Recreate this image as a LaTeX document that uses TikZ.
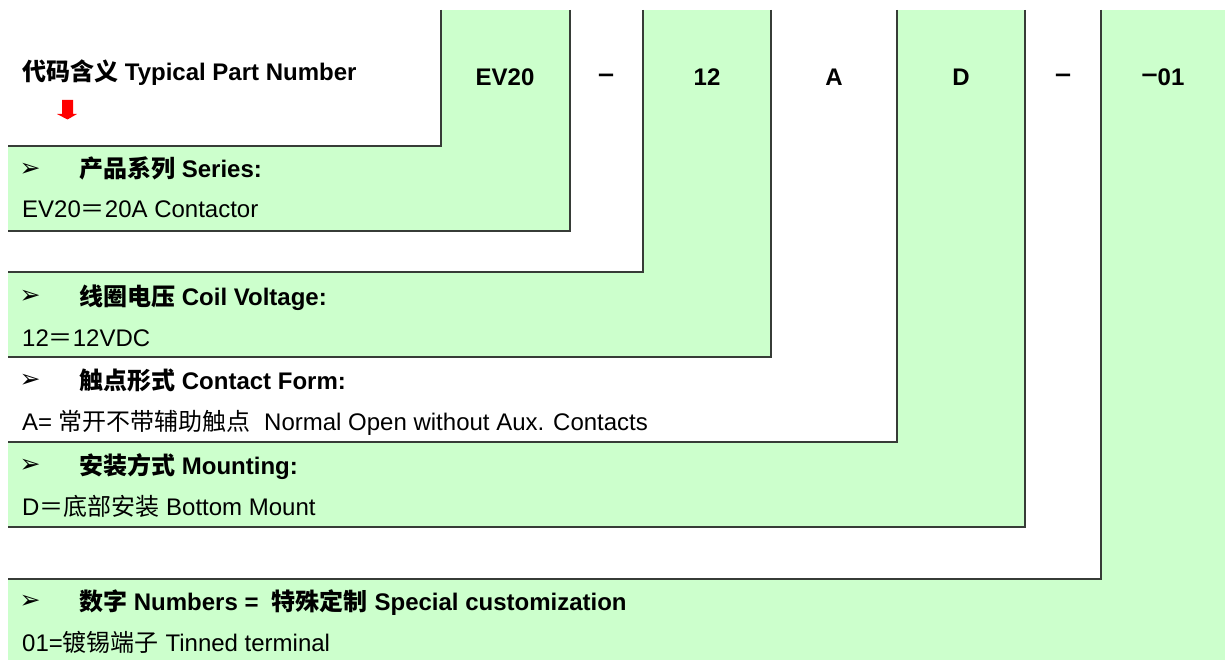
\documentclass[tikz,border=0pt]{standalone}
\usepackage{fontspec}
\setmainfont{Liberation Sans}
\newfontfamily\cjk{Noto Sans CJK SC}
\newfontfamily\symf{DejaVu Sans}
\definecolor{lg}{RGB}{204,255,204}
\definecolor{bd}{RGB}{55,60,55}
\definecolor{arrowred}{RGB}{255,0,0}
\newcommand{\rdash}{\raisebox{3.5pt}{\scalebox{1.2}[1.1]{–}}}
\tikzset{
  edge/.style={line width=1.4pt, draw=bd},
  txt/.style={anchor=base west, inner sep=0pt, font=\fontsize{24}{28}\selectfont},
  hd/.style={anchor=base west, inner sep=0pt, font=\fontsize{24}{28}\selectfont\bfseries},
  code/.style={anchor=base, inner sep=0pt, font=\fontsize{24}{28}\selectfont\bfseries},
  bul/.style={anchor=center, inner sep=0pt, font=\symf\fontsize{25}{28}\selectfont},
}
\begin{document}
\begin{tikzpicture}[x=1pt,y=-1pt]
\useasboundingbox (0,0) rectangle (1225,660);
% nested L shapes, largest first
\fill[lg] (8,10) rectangle (1225,660);
\fill[white] (8,10) rectangle (1101,579);
\draw[edge] (1101,10) -- (1101,579) -- (8,579);
\fill[lg] (8,10) rectangle (1025,527);
\draw[edge] (1025,10) -- (1025,527) -- (8,527);
\fill[white] (8,10) rectangle (897,442);
\draw[edge] (897,10) -- (897,442) -- (8,442);
\fill[lg] (8,10) rectangle (771,357);
\draw[edge] (771,10) -- (771,357) -- (8,357);
\fill[white] (8,10) rectangle (643,272);
\draw[edge] (643,10) -- (643,272) -- (8,272);
\fill[lg] (8,10) rectangle (570,231);
\draw[edge] (570,10) -- (570,231) -- (8,231);
\fill[white] (8,10) rectangle (441,146);
\draw[edge] (441,10) -- (441,146) -- (8,146);
% red arrow
\fill[arrowred] (62,100) -- (73,100) -- (73,114) -- (77,114) -- (67.5,119.5) -- (57,114) -- (62,114) -- cycle;
% header
\node[hd] (title) at (22,81) {{\cjk 代码含义} Typical Part Number};
\node[code] (c1) at (505,86) {EV20};
\node[code] (c2) at (606,86) {\rdash};
\node[code] (c3) at (707,86) {12};
\node[code] (c4) at (834,86) {A};
\node[code] (c5) at (961,86) {D};
\node[code] (c6) at (1063,86) {\rdash};
\node[code] (c7) at (1163,86) {\rdash01};
% rows
\node[bul] (b1) at (30,170) {➢};
\node[hd] (h1) at (79,178) {{\cjk 产品系列} Series:};
\node[txt] (t1) at (22,218) {EV20{\cjk ＝}20A Contactor};
\node[bul] (b2) at (30,297) {➢};
\node[hd] (h2) at (79,305) {{\cjk 线圈电压} Coil Voltage:};
\node[txt] (t2) at (22,346) {12{\cjk ＝}12VDC};
\node[bul] (b3) at (30,381) {➢};
\node[hd] (h3) at (79,389) {{\cjk 触点形式} Contact Form:};
\node[txt] (t3) at (22,430) {A= {\cjk 常开不带辅助触点}\ \ Normal Open without Aux. Contacts};
\node[bul] (b4) at (30,466) {➢};
\node[hd] (h4) at (79,474) {{\cjk 安装方式} Mounting:};
\node[txt] (t4) at (22,515) {D{\cjk ＝底部安装} Bottom Mount};
\node[bul] (b5) at (30,602) {➢};
\node[hd] (h5) at (79,610) {{\cjk 数字} Numbers =\ \ {\cjk 特殊定制} Special customization};
\node[txt] (t5) at (22,651) {01={\cjk 镀锡端子} Tinned terminal};
\end{tikzpicture}
\end{document}
